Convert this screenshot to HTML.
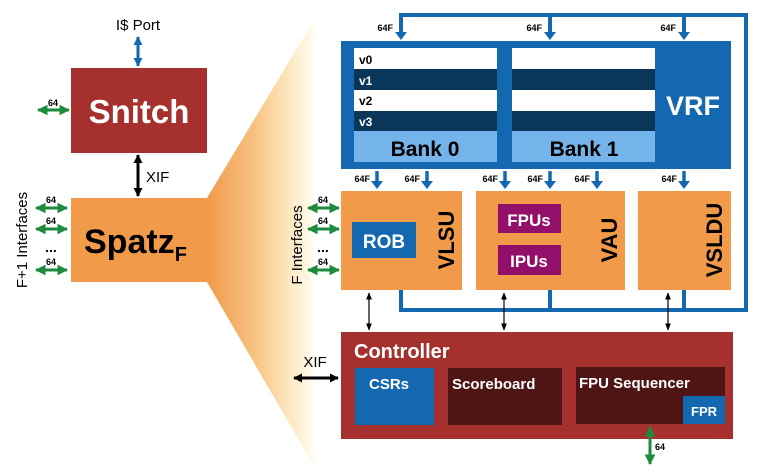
<!DOCTYPE html>
<html><head><meta charset="utf-8"><style>
html,body{margin:0;padding:0;background:#fff;}
svg{display:block;}
text{font-family:"Liberation Sans",sans-serif;}
.b{font-weight:bold;}
</style></head><body>
<svg width="758" height="474" viewBox="0 0 758 474" xmlns="http://www.w3.org/2000/svg">
<defs>
<linearGradient id="fan" x1="0" x2="1" y1="0" y2="0">
<stop offset="0" stop-color="#f09a4a"/>
<stop offset="0.45" stop-color="#f7c282"/>
<stop offset="0.75" stop-color="#fce6bd"/>
<stop offset="1" stop-color="#fffcf2"/>
</linearGradient>
<marker id="gA" viewBox="0 0 10 10" refX="9" refY="5" markerWidth="3.6" markerHeight="3.6" orient="auto-start-reverse"><path d="M0,0L10,5L0,10z" fill="#1e8a3c"/></marker>
<marker id="bA" viewBox="0 0 10 10" refX="9" refY="5" markerWidth="3" markerHeight="3" orient="auto-start-reverse"><path d="M0,0L10,5L0,10z" fill="#1368b0"/></marker>
<marker id="kA" viewBox="0 0 10 10" refX="9" refY="5" markerWidth="3" markerHeight="3" orient="auto-start-reverse"><path d="M0,0L10,5L0,10z" fill="#000"/></marker>
<marker id="kS" viewBox="0 0 10 10" refX="9" refY="5" markerWidth="6" markerHeight="6" orient="auto-start-reverse"><path d="M0,1L10,5L0,9z" fill="#000"/></marker>
</defs>

<polygon points="207,198 314,20 314,466 207,282" fill="url(#fan)"/>

<text x="138" y="30" font-size="15" text-anchor="middle">I$ Port</text>
<line x1="138" y1="37" x2="138" y2="66" stroke="#1368b0" stroke-width="3" marker-start="url(#bA)" marker-end="url(#bA)"/>
<rect x="71" y="68" width="136" height="85" fill="#a5302e"/>
<text x="139" y="123" font-size="33" fill="#fff" text-anchor="middle" class="b">Snitch</text>
<line x1="38" y1="110" x2="69" y2="110" stroke="#1e8a3c" stroke-width="3" marker-start="url(#gA)" marker-end="url(#gA)"/>
<text x="53" y="106" font-size="9" text-anchor="middle" class="b">64</text>
<line x1="138" y1="155" x2="138" y2="196" stroke="#000" stroke-width="3" marker-start="url(#kA)" marker-end="url(#kA)"/>
<text x="146" y="182" font-size="15">XIF</text>
<rect x="71" y="198" width="136" height="84" fill="#f09a4a"/>
<text x="84" y="253" font-size="34" class="b">Spatz<tspan font-size="20" dy="8">F</tspan></text>
<g stroke="#1e8a3c" stroke-width="3">
<line x1="36" y1="208" x2="67" y2="208" marker-start="url(#gA)" marker-end="url(#gA)"/>
<line x1="36" y1="229" x2="67" y2="229" marker-start="url(#gA)" marker-end="url(#gA)"/>
<line x1="36" y1="270" x2="67" y2="270" marker-start="url(#gA)" marker-end="url(#gA)"/>
</g>
<text x="51" y="203" font-size="9" text-anchor="middle" class="b">64</text>
<text x="51" y="224" font-size="9" text-anchor="middle" class="b">64</text>
<text x="51" y="265" font-size="9" text-anchor="middle" class="b">64</text>
<text x="51" y="252" font-size="14" text-anchor="middle" class="b">...</text>
<text transform="translate(27,240) rotate(-90)" font-size="15" text-anchor="middle">F+1 Interfaces</text>

<text transform="translate(302,245) rotate(-90)" font-size="15" text-anchor="middle">F Interfaces</text>
<g stroke="#1e8a3c" stroke-width="3">
<line x1="308" y1="208" x2="339" y2="208" marker-start="url(#gA)" marker-end="url(#gA)"/>
<line x1="308" y1="229" x2="339" y2="229" marker-start="url(#gA)" marker-end="url(#gA)"/>
<line x1="308" y1="270" x2="339" y2="270" marker-start="url(#gA)" marker-end="url(#gA)"/>
</g>
<text x="323" y="203" font-size="9" text-anchor="middle" class="b">64</text>
<text x="323" y="224" font-size="9" text-anchor="middle" class="b">64</text>
<text x="323" y="265" font-size="9" text-anchor="middle" class="b">64</text>
<text x="323" y="252" font-size="14" text-anchor="middle" class="b">...</text>

<g fill="none" stroke="#1368b0" stroke-width="4">
<polyline points="401,36 401,15 746,15 746,310 401,310 401,290"/>
<line x1="550" y1="15" x2="550" y2="36"/>
<line x1="684" y1="15" x2="684" y2="36"/>
<line x1="550" y1="310" x2="550" y2="290"/>
<line x1="684" y1="310" x2="684" y2="290"/>
</g>
<g fill="#1368b0">
<polygon points="395,32 407,32 401,40"/>
<polygon points="544,32 556,32 550,40"/>
<polygon points="678,32 690,32 684,40"/>
</g>
<g font-size="9" class="b" text-anchor="end">
<text x="393" y="31">64F</text><text x="542" y="31">64F</text><text x="676" y="31">64F</text>
</g>

<rect x="341" y="41" width="390" height="128" fill="#1368b0"/>
<rect x="354" y="48" width="143" height="21" fill="#fff"/>
<rect x="354" y="69" width="143" height="21" fill="#0a3659"/>
<rect x="354" y="90" width="143" height="21" fill="#fff"/>
<rect x="354" y="111" width="143" height="20" fill="#0a3659"/>
<rect x="354" y="131" width="143" height="31" fill="#74b4ea"/>
<rect x="512" y="48" width="143" height="21" fill="#fff"/>
<rect x="512" y="69" width="143" height="21" fill="#0a3659"/>
<rect x="512" y="90" width="143" height="21" fill="#fff"/>
<rect x="512" y="111" width="143" height="20" fill="#0a3659"/>
<rect x="512" y="131" width="143" height="31" fill="#74b4ea"/>
<g font-size="12" class="b">
<text x="359" y="64">v0</text><text x="359" y="85" fill="#fff">v1</text>
<text x="359" y="105">v2</text><text x="359" y="126" fill="#fff">v3</text>
</g>
<text x="425" y="156" font-size="21" class="b" text-anchor="middle">Bank 0</text>
<text x="584" y="156" font-size="21" class="b" text-anchor="middle">Bank 1</text>
<text x="693" y="115" font-size="27" class="b" fill="#fff" text-anchor="middle">VRF</text>

<g stroke="#1368b0" stroke-width="3.5">
<line x1="377" y1="171" x2="377" y2="183"/><line x1="427" y1="171" x2="427" y2="183"/>
<line x1="505" y1="171" x2="505" y2="183"/><line x1="550" y1="171" x2="550" y2="183"/>
<line x1="597" y1="171" x2="597" y2="183"/><line x1="684" y1="171" x2="684" y2="183"/>
</g>
<g fill="#1368b0">
<polygon points="371,181 383,181 377,189"/><polygon points="421,181 433,181 427,189"/>
<polygon points="499,181 511,181 505,189"/><polygon points="544,181 556,181 550,189"/>
<polygon points="591,181 603,181 597,189"/><polygon points="678,181 690,181 684,189"/>
</g>
<g font-size="9" class="b" text-anchor="end">
<text x="370" y="182">64F</text><text x="420" y="182">64F</text><text x="498" y="182">64F</text>
<text x="543" y="182">64F</text><text x="590" y="182">64F</text><text x="677" y="182">64F</text>
</g>

<rect x="341" y="191" width="121" height="99" fill="#f09a4a"/>
<rect x="476" y="191" width="149" height="99" fill="#f09a4a"/>
<rect x="638" y="191" width="93" height="99" fill="#f09a4a"/>
<rect x="352" y="222" width="64" height="36" fill="#1368b0"/>
<text x="384" y="248" font-size="19" class="b" fill="#fff" text-anchor="middle">ROB</text>
<text transform="translate(454,240) rotate(-90)" font-size="22" class="b" text-anchor="middle">VLSU</text>
<rect x="498" y="204" width="63" height="29" fill="#92106a"/>
<rect x="498" y="245" width="63" height="30" fill="#92106a"/>
<text x="529" y="226" font-size="17" class="b" fill="#fff" text-anchor="middle">FPUs</text>
<text x="529" y="267" font-size="17" class="b" fill="#fff" text-anchor="middle">IPUs</text>
<text transform="translate(617,240) rotate(-90)" font-size="22" class="b" text-anchor="middle">VAU</text>
<text transform="translate(722,240) rotate(-90)" font-size="22" class="b" text-anchor="middle">VSLDU</text>

<g stroke="#000" stroke-width="1.2">
<line x1="369" y1="293" x2="369" y2="330" marker-start="url(#kS)" marker-end="url(#kS)"/>
<line x1="504" y1="293" x2="504" y2="330" marker-start="url(#kS)" marker-end="url(#kS)"/>
<line x1="668" y1="293" x2="668" y2="330" marker-start="url(#kS)" marker-end="url(#kS)"/>
</g>

<rect x="341" y="332" width="392" height="107" fill="#a5302e"/>
<text x="354" y="358" font-size="20" class="b" fill="#fff">Controller</text>
<rect x="355" y="368" width="79" height="57" fill="#1368b0"/>
<text x="369" y="389" font-size="15" class="b" fill="#fff">CSRs</text>
<rect x="448" y="368" width="114" height="57" fill="#4e1514"/>
<text x="452" y="389" font-size="15" class="b" fill="#fff">Scoreboard</text>
<rect x="576" y="367" width="149" height="57" fill="#4e1514"/>
<text x="579" y="388" font-size="15" class="b" fill="#fff">FPU Sequencer</text>
<rect x="683" y="396" width="42" height="28" fill="#1368b0"/>
<text x="704" y="416" font-size="13" class="b" fill="#fff" text-anchor="middle">FPR</text>
<line x1="294" y1="378" x2="338" y2="378" stroke="#000" stroke-width="3" marker-start="url(#kA)" marker-end="url(#kA)"/>
<text x="315" y="367" font-size="15" text-anchor="middle">XIF</text>
<line x1="650" y1="427" x2="650" y2="464" stroke="#1e8a3c" stroke-width="3" marker-start="url(#gA)" marker-end="url(#gA)"/>
<text x="655" y="450" font-size="9" class="b">64</text>
</svg>
</body></html>
